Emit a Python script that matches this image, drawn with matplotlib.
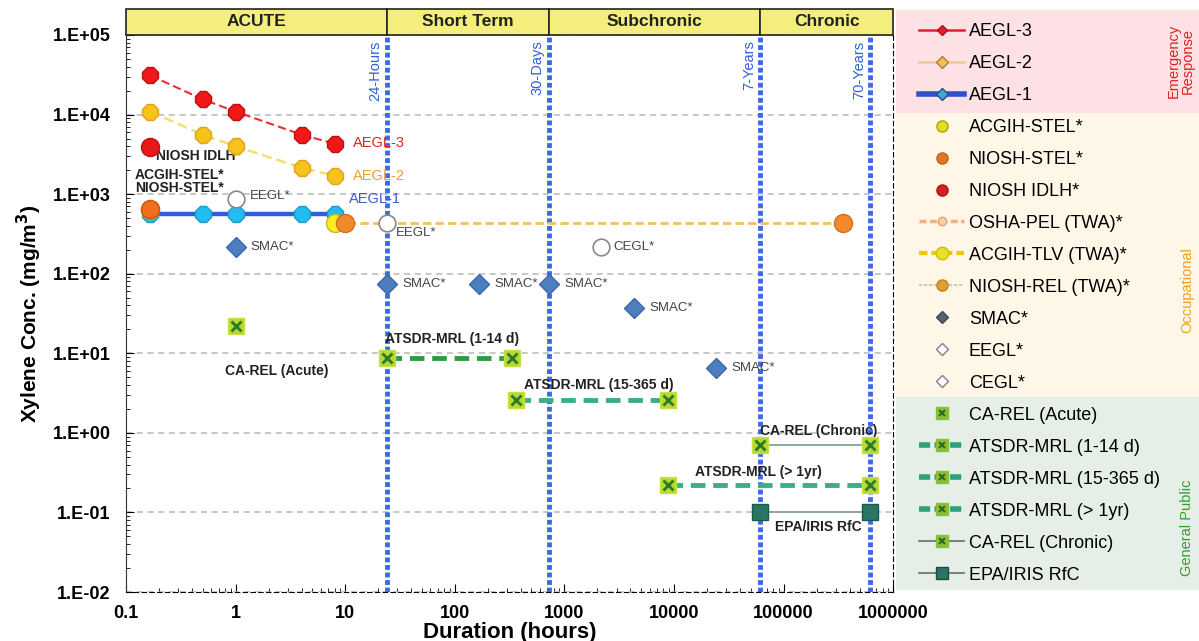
import numpy as np
import matplotlib.pyplot as plt
import matplotlib.transforms as mtransforms
from matplotlib.lines import Line2D
from matplotlib.patches import Rectangle

plt.rcParams['font.family'] = ['Liberation Sans', 'DejaVu Sans']

# ---- data (durations in hours, concentrations in mg/m3) ----
aegl_hours = [0.167, 0.5, 1, 4, 8]
aegl3 = [31000, 15600, 10900, 5600, 4300]
aegl2 = [10900, 5600, 4000, 2150, 1700]
aegl1 = [560, 560, 560, 560, 560]

idlh_hours = [0.167]
niosh_idlh = [3900]
stel_hours = [0.167]
acgih_stel = [640]
niosh_stel = [650]
osha_pel_hours = [8, 350400]
osha_pel = [435, 435]
acgih_tlv_hours = [8]
acgih_tlv = [430]
niosh_rel_hours = [10]
niosh_rel = [435]
smac_hours = [1, 24, 168, 720, 4320, 24000]
smac = [217, 74, 74, 74, 37, 6.5]
eegl_hours = [1, 24]
eegl = [870, 440]
cegl_hours = [2160]
cegl = [217]
ca_rel_acute_hours = [1]
ca_rel_acute = [22]
mrl_acute_hours = [24, 336]
mrl_acute = [8.7, 8.7]
mrl_inter_hours = [360, 8760]
mrl_inter = [2.6, 2.6]
mrl_chronic_hours = [8760, 613200]
mrl_chronic = [0.22, 0.22]
ca_rel_chronic_hours = [61320, 613200]
ca_rel_chronic = [0.7, 0.7]
rfc_hours = [61320, 613200]
rfc = [0.1, 0.1]

period_edges = [0.1, 24, 720, 61320, 1e6]
period_names = ['ACUTE', 'Short Term', 'Subchronic', 'Chronic']
mark_hours = [24, 720, 61320, 613200]
mark_names = ['24-Hours', '30-Days', '7-Years', '70-Years']

fig = plt.figure(figsize=(11.99, 6.41), dpi=100)
ax = fig.add_axes([0.105, 0.0764, 0.640, 0.869])
ax.set_xscale('log')
ax.set_yscale('log')
ax.set_xlim(0.1, 1e6)
ax.set_ylim(1e-2, 1e5)

# legend background bands
fig.patches.append(Rectangle((0.747, 0.824), 0.253, 0.161, transform=fig.transFigure,
                             facecolor='#fde1e5', edgecolor='none', zorder=0))
fig.patches.append(Rectangle((0.747, 0.381), 0.253, 0.443, transform=fig.transFigure,
                             facecolor='#fef6e6', edgecolor='none', zorder=0))
fig.patches.append(Rectangle((0.747, 0.080), 0.253, 0.301, transform=fig.transFigure,
                             facecolor='#e5eee7', edgecolor='none', zorder=0))

ax.yaxis.grid(True, which='major', linestyle=(0, (4, 3)), color='#b8b8b8', lw=1.1)
ax.set_axisbelow(True)

# period header band
trans = mtransforms.blended_transform_factory(ax.transData, ax.transAxes)
for i, name in enumerate(period_names):
    x0, x1 = period_edges[i], period_edges[i + 1]
    ax.add_patch(Rectangle((x0, 1.0), x1 - x0, 0.047, transform=trans, clip_on=False,
                           facecolor='#f4ef7c', edgecolor='#222222', lw=1.2))
    ax.text(np.sqrt(x0 * x1), 1.0235, name, transform=trans, ha='center', va='center',
            fontsize=12.5, fontweight='bold', color='#222222')

# vertical time markers
for h, name in zip(mark_hours, mark_names):
    ax.axvline(h, color='#3a6ae8', lw=3.5, linestyle=(0, (1, 0.55)), zorder=2)
    ax.annotate(name, (h, 1.0), xycoords=trans, xytext=(-3, -4), textcoords='offset points',
                rotation=90, ha='right', va='top', fontsize=10.5, color='#2f5fe0')

# AEGLs
ax.plot(aegl_hours, aegl3, color='#e83030', lw=1.5, ls=(0, (4, 2)), marker='8', ms=12,
        mfc='#f01818', mec='#c01010', zorder=5)
ax.plot(aegl_hours, aegl2, color='#f2e070', lw=1.8, ls=(0, (4, 2)), marker='8', ms=12,
        mfc='#f6c21c', mec='#e0a020', zorder=5)
ax.plot(aegl_hours, aegl1, color='#2f5fd8', lw=3.2, marker='8', ms=12,
        mfc='#22bdf0', mec='#1a9ad0', zorder=5)

# occupational
ax.plot(osha_pel_hours, osha_pel, color='#f3c060', lw=2, ls=(0, (3, 1.5)), marker='o', ms=13,
        mfc='#f08a2a', mec='#d07020', markevery=[1], zorder=4)
ax.plot(acgih_tlv_hours, acgih_tlv, ls='none', marker='o', ms=13, mfc='#f6ee20',
        mec='#d8b020', zorder=6)
ax.plot(niosh_rel_hours, niosh_rel, ls='none', marker='o', ms=13, mfc='#f08a2a',
        mec='#d07020', zorder=6)
ax.plot(idlh_hours, niosh_idlh, ls='none', marker='o', ms=13, mfc='#e81818', mec='#c01010', zorder=6)
ax.plot(stel_hours, acgih_stel, ls='none', marker='o', ms=13, mfc='#e8e020', mec='#c0a000', zorder=6)
ax.plot(stel_hours, niosh_stel, ls='none', marker='o', ms=13, mfc='#f07020', mec='#d05010', zorder=7)
ax.plot(smac_hours, smac, ls='none', marker='D', ms=10, mfc='#4f7ec0', mec='#3a68a8', zorder=6)
ax.plot(eegl_hours, eegl, ls='none', marker='o', ms=12, mfc='white', mec='#888888',
        markeredgewidth=1.2, zorder=6)
ax.plot(cegl_hours, cegl, ls='none', marker='o', ms=12, mfc='white', mec='#888888',
        markeredgewidth=1.2, zorder=6)

# general public
sq = dict(marker='s', ms=12, mfc='#b8d830', mec='#c8e040')
xx = dict(marker='x', ms=7, mec='#2a7a2a', mew=2)
ax.plot(ca_rel_acute_hours, ca_rel_acute, ls='none', zorder=6, **sq)
ax.plot(ca_rel_acute_hours, ca_rel_acute, ls='none', zorder=7, **xx)
for hrs, vals, col in [(mrl_acute_hours, mrl_acute, '#2f9a40'),
                       (mrl_inter_hours, mrl_inter, '#3cae82'),
                       (mrl_chronic_hours, mrl_chronic, '#3cae82')]:
    ax.plot(hrs, vals, color=col, lw=3.5, ls=(0, (3, 1.6)), zorder=5, **sq)
    ax.plot(hrs, vals, ls='none', zorder=7, **xx)
ax.plot(ca_rel_chronic_hours, ca_rel_chronic, color='#7aaa90', lw=1.3, zorder=5, **sq)
ax.plot(ca_rel_chronic_hours, ca_rel_chronic, ls='none', zorder=7, **xx)
ax.plot(rfc_hours, rfc, color='#88a098', lw=1.3, marker='s', ms=11, mfc='#2a7565',
        mec='#1e5a4c', zorder=6)

# point labels
lab = dict(fontsize=10, fontweight='bold', color='#222222')
ax.text(11.8, 4400, 'AEGL-3', fontsize=10.5, color='#e82020', va='center')
ax.text(11.8, 1700, 'AEGL-2', fontsize=10.5, color='#f0a030', va='center')
ax.text(10.8, 880, 'AEGL-1', fontsize=10.5, color='#3a5fd8', va='center')
ax.text(0.19, 3000, 'NIOSH IDLH*', va='center', **lab)
ax.text(0.31, 1740, 'ACGIH-STEL*', va='center', ha='center', **lab)
ax.text(0.31, 1200, 'NIOSH-STEL*', va='center', ha='center', **lab)
ax.text(1.36, 950, 'EEGL*', fontsize=9.5, color='#444444', va='center')
ax.text(29, 325, 'EEGL*', fontsize=9.5, color='#444444', va='center')
ax.annotate('CEGL*', (cegl_hours[0], cegl[0]), xytext=(9, 0), textcoords='offset points',
            fontsize=9.5, color='#444444', va='center')
for h, v in zip(smac_hours, smac):
    ax.annotate('SMAC*', (h, v), xytext=(11, 0), textcoords='offset points',
                fontsize=9.5, color='#444444', va='center')
ax.text(2.4, 6.0, 'CA-REL (Acute)', ha='center', va='center', **lab)
ax.text(95, 15, 'ATSDR-MRL (1-14 d)', ha='center', va='center', **lab)
ax.text(2040, 4.0, 'ATSDR-MRL (15-365 d)', ha='center', va='center', **lab)
ax.text(59000, 0.32, 'ATSDR-MRL (> 1yr)', ha='center', va='center', **lab)
ax.text(209000, 1.06, 'CA-REL (Chronic)', ha='center', va='center', **lab)
ax.text(209000, 0.066, 'EPA/IRIS RfC', ha='center', va='center', **lab)

# axes styling
ax.set_xticks([0.1, 1, 10, 100, 1000, 10000, 100000, 1000000])
ax.set_xticklabels(['0.1', '1', '10', '100', '1000', '10000', '100000', '1000000'])
ax.set_yticks([1e-2, 1e-1, 1, 10, 100, 1e3, 1e4, 1e5])
ax.set_yticklabels(['1.E-02', '1.E-01', '1.E+00', '1.E+01', '1.E+02', '1.E+03', '1.E+04', '1.E+05'])
ax.tick_params(axis='both', which='both', direction='in', labelsize=13)
ax.tick_params(axis='both', which='major', length=6)
ax.tick_params(axis='both', which='minor', length=3)
ax.tick_params(axis='x', which='major', pad=9)
ax.tick_params(axis='y', which='major', pad=11)
for lbl in ax.get_xticklabels() + ax.get_yticklabels():
    lbl.set_fontweight('bold')
ax.spines['top'].set_visible(False)
ax.spines['right'].set_linestyle((0, (4, 3)))
ax.spines['bottom'].set_linestyle((0, (4, 3)))
ax.spines['left'].set_color('#333333')
ax.set_xlabel('Duration (hours)', fontsize=16, fontweight='bold', labelpad=0)
ax.set_ylabel('Xylene Conc. (mg/m$^\\mathbf{3}$)', fontsize=15, fontweight='bold', labelpad=6)

# legend
sq_h = Line2D([], [], ls='none', marker='s', ms=8, mfc='#8cc030', mec='#8cc030')
x_h = Line2D([], [], ls='none', marker='x', ms=5, mec='#2a6a2a', mew=1.5)
handles = [
    Line2D([], [], color='#e02030', lw=1.8, marker='D', ms=5, mfc='#e02030', mec='#b01010'),
    Line2D([], [], color='#ecc898', lw=1.8, marker='D', ms=6, mfc='#f0c050', mec='#b08040'),
    Line2D([], [], color='#3050d0', lw=4, marker='D', ms=6, mfc='#40a8d8', mec='#205080'),
    Line2D([], [], ls='none', marker='o', ms=8, mfc='#e0e020', mec='#b0a000'),
    Line2D([], [], ls='none', marker='o', ms=8, mfc='#e07828', mec='#c06020'),
    Line2D([], [], ls='none', marker='o', ms=8, mfc='#d02020', mec='#b01010'),
    Line2D([], [], color='#f0b080', lw=2.5, ls=(0, (2, 1)), marker='o', ms=6, mfc='#f8d0a0', mec='#e0a070'),
    Line2D([], [], color='#f0c800', lw=3, ls=(0, (2, 1)), marker='o', ms=9, mfc='#e8e030', mec='#d0c000'),
    Line2D([], [], color='#c8c0b0', lw=1.2, ls=(0, (2, 1)), marker='o', ms=8, mfc='#e0a030', mec='#c08020'),
    Line2D([], [], ls='none', marker='D', ms=6, mfc='#5a6070', mec='#404858'),
    Line2D([], [], ls='none', marker='D', ms=6, mfc='white', mec='#808080'),
    Line2D([], [], ls='none', marker='D', ms=6, mfc='white', mec='#808080'),
    (sq_h, x_h),
    (Line2D([], [], color='#2aa080', lw=4, ls=(0, (2, 0.8)), marker='s', ms=8, mfc='#8cc030', mec='#8cc030'), x_h),
    (Line2D([], [], color='#2aa080', lw=4, ls=(0, (2, 0.8)), marker='s', ms=8, mfc='#8cc030', mec='#8cc030'), x_h),
    (Line2D([], [], color='#2aa080', lw=4, ls=(0, (2, 0.8)), marker='s', ms=8, mfc='#8cc030', mec='#8cc030'), x_h),
    (Line2D([], [], color='#607060', lw=1.2, marker='s', ms=8, mfc='#8cc030', mec='#8cc030'), x_h),
    Line2D([], [], color='#607068', lw=1.2, marker='s', ms=8, mfc='#2a7565', mec='#1e4a40'),
]
labels = ['AEGL-3', 'AEGL-2', 'AEGL-1', 'ACGIH-STEL*', 'NIOSH-STEL*', 'NIOSH IDLH*',
          'OSHA-PEL (TWA)*', 'ACGIH-TLV (TWA)*', 'NIOSH-REL (TWA)*', 'SMAC*', 'EEGL*', 'CEGL*',
          'CA-REL (Acute)', 'ATSDR-MRL (1-14 d)', 'ATSDR-MRL (15-365 d)', 'ATSDR-MRL (> 1yr)',
          'CA-REL (Chronic)', 'EPA/IRIS RfC']
fig.legend(handles, labels, loc='upper left', bbox_to_anchor=(0.756, 0.984), frameon=False,
           fontsize=13, handlelength=2.5, handletextpad=0.25, labelspacing=0.83, borderpad=0.2)

fig.text(0.985, 0.905, 'Emergency\nResponse', rotation=90, ha='center', va='center',
         fontsize=10.5, color='#e02020', linespacing=1.0)
fig.text(0.99, 0.548, 'Occupational', rotation=90, ha='center', va='center',
         fontsize=10.5, color='#f0a020')
fig.text(0.99, 0.176, 'General Public', rotation=90, ha='center', va='center',
         fontsize=10.5, color='#30a030')

fig.savefig('out.png', dpi=100)
